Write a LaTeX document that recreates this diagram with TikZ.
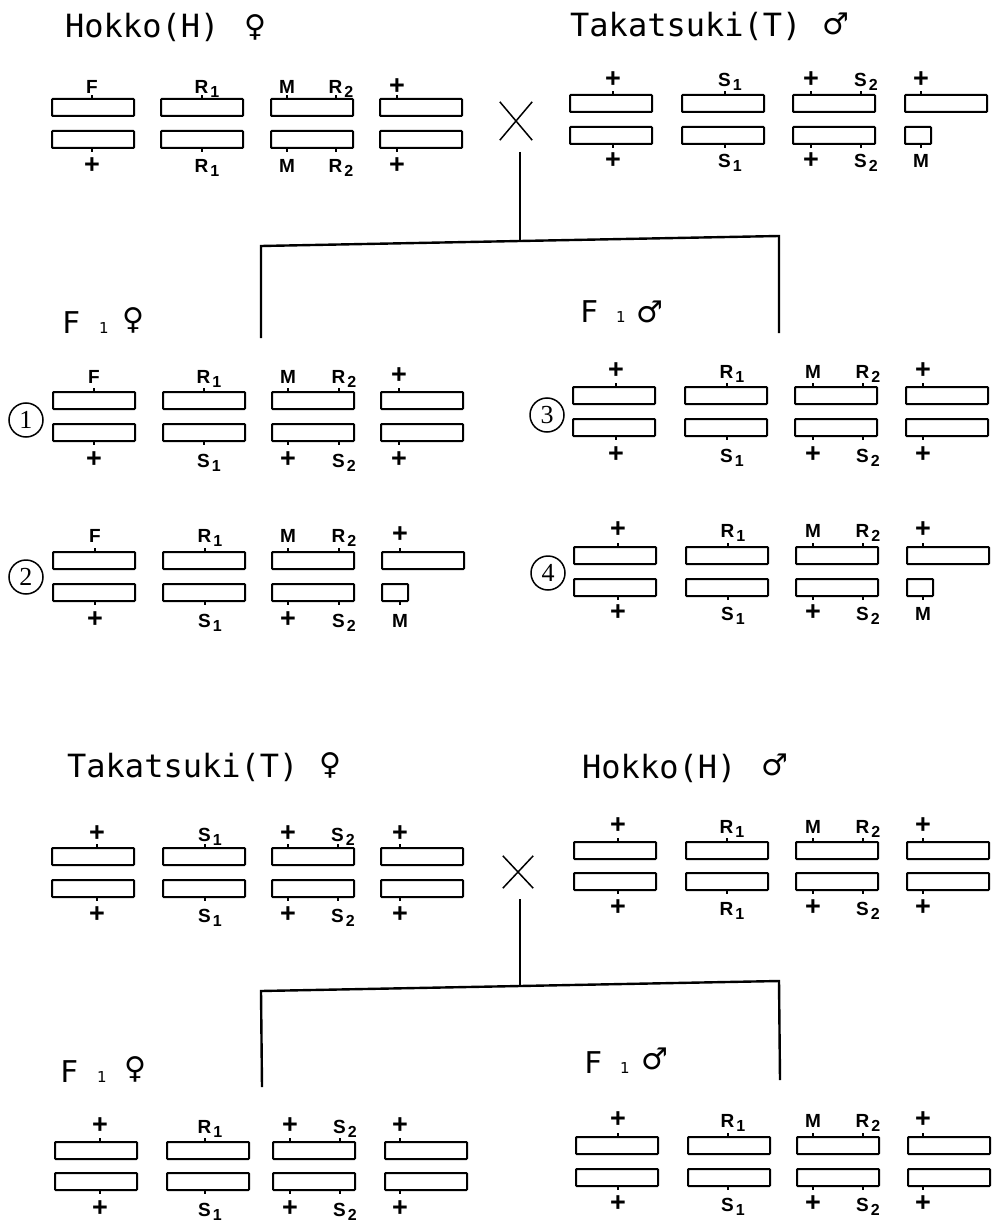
\documentclass[tikz,border=0pt]{standalone}
\usepackage{fontspec}
\setmainfont{Liberation Sans}
\newfontfamily\monof{DejaVu Sans Mono}
\newfontfamily\symf{DejaVu Sans}
\newfontfamily\serf{Liberation Serif}
\newcounter{nn}
\newcommand\subf{\fontsize{16}{16}\selectfont}
% bars: x1,x2,x3,x4,yU,yL
\newcommand\bars[6]{\foreach \xx in {#1,#2,#3,#4}{\draw[chr] (\xx,#5) rectangle ++(82,17); \draw[chr] (\xx,#6) rectangle ++(82,17);}}
\newcommand\barsM[6]{\foreach \xx in {#1,#2,#3,#4}{\draw[chr] (\xx,#5) rectangle ++(82,17);}
  \foreach \xx in {#1,#2,#3}{\draw[chr] (\xx,#6) rectangle ++(82,17);}
  \draw[chr] (#4,#6) rectangle ++(26,17);}
% ticks and labels: x, edge y, label y, ...
\newcommand\upP[3]{\draw[tick] (#1,#2) -- ++(0,-4);\stepcounter{nn}\node[plus] (n\arabic{nn}) at (#1,#3) {+};}
\newcommand\dnP[3]{\draw[tick] (#1,#2) -- ++(0,4);\stepcounter{nn}\node[plus] (n\arabic{nn}) at (#1,#3) {+};}
\newcommand\upL[4]{\draw[tick] (#1,#2) -- ++(0,-4);\stepcounter{nn}\node[let] (n\arabic{nn}) at (#1,#3+7) {#4};}
\newcommand\dnL[4]{\draw[tick] (#1,#2) -- ++(0,4);\stepcounter{nn}\node[let] (n\arabic{nn}) at (#1,#3+7) {#4};}
\newcommand\upS[5]{\draw[tick] (#1,#2) -- ++(0,-4);\stepcounter{nn}\node[let] (n\arabic{nn}) at (#1+5,#3+7) {#4\hspace{2pt}\raisebox{-4pt}{\subf #5}};}
\newcommand\dnS[5]{\draw[tick] (#1,#2) -- ++(0,4);\stepcounter{nn}\node[let] (n\arabic{nn}) at (#1+5,#3+7) {#4\hspace{2pt}\raisebox{-4pt}{\subf #5}};}
\begin{document}
\begin{tikzpicture}[x=1pt,y=-1pt,
  chr/.style={draw=black,line width=2pt,rounded corners=0.8pt},
  tick/.style={draw=black,line width=1.2pt},
  plus/.style={inner sep=0pt,anchor=center,font=\bfseries\fontsize{27}{27}\selectfont},
  let/.style={inner sep=0pt,anchor=base,font=\bfseries\fontsize{19}{19}\selectfont},
  title/.style={inner sep=0pt,anchor=base west,font=\monof\fontsize{32}{32}\selectfont},
  sym/.style={inner sep=0pt,anchor=center,font=\symf\fontsize{30}{30}\selectfont},
  ffont/.style={inner sep=0pt,anchor=base west,font=\monof\fontsize{30}{30}\selectfont},
  onefont/.style={inner sep=0pt,anchor=base,font=\symf\fontsize{15}{15}\selectfont},
  circ/.style={draw=black,circle,line width=1.5pt,minimum size=34pt,inner sep=0pt,font=\serf\fontsize{26}{26}\selectfont},
  crossl/.style={draw=black,line width=1.5pt},
  conn/.style={draw=black,line width=2.4pt}]
\useasboundingbox (0,0) rectangle (994,1222);
\fill[white] (0,0) rectangle (994,1222);

% ---------- titles ----------
\node[title] (tHf) at (65,38) {Hokko(H)};
\node[sym] (sHf) at (255,27) {♀};
\node[title] (tTm) at (570,37) {Takatsuki(T)};
\node[sym] (sTm) at (836,24) {♂};
\node[title] (tTf) at (67,777) {Takatsuki(T)};
\node[sym] (sTf) at (330,765) {♀};
\node[title] (tHm) at (582,778) {Hokko(H)};
\node[sym] (sHm) at (775,765) {♂};

% F1 labels
\node[ffont] (f1a) at (62,333) {F};
\node[onefont] (f1an) at (104,333) {1};
\node[sym] (f1as) at (133,320) {♀};
\node[ffont] (f1b) at (580,323) {F};
\node[onefont] (f1bn) at (621,323) {1};
\node[sym] (f1bs) at (650,312) {♂};
\node[ffont] (f1c) at (60,1082) {F};
\node[onefont] (f1cn) at (102,1082) {1};
\node[sym] (f1cs) at (135,1069) {♀};
\node[ffont] (f1d) at (584,1073) {F};
\node[onefont] (f1dn) at (625,1073) {1};
\node[sym] (f1ds) at (655,1059) {♂};

% circled numbers
\node[circ] (c1) at (26,420) {1};
\node[circ] (c2) at (26,577) {2};
\node[circ] (c3) at (547,415) {3};
\node[circ] (c4) at (548,573) {4};

% crosses
\node[minimum width=32pt,minimum height=38pt,inner sep=0pt] (xA) at (516,121) {};
\draw[crossl] (xA.north west) -- (xA.south east);
\draw[crossl] (xA.south west) -- (xA.north east);
\node[minimum width=30pt,minimum height=32pt,inner sep=0pt] (xB) at (518,872) {};
\draw[crossl] (xB.north west) -- (xB.south east);
\draw[crossl] (xB.south west) -- (xB.north east);

% connectors
\coordinate (vA) at (520,152);
\coordinate (jA) at (520,241);
\coordinate (lA) at (261,246);
\coordinate (rA) at (779,236);
\coordinate (lAe) at (261,338);
\coordinate (rAe) at (779,333);
\draw[conn] (vA) -- (jA);
\draw[conn] (lAe) -- (lA) -- (rA) -- (rAe);
\coordinate (vB) at (520,899);
\coordinate (jB) at (520,986);
\coordinate (lB) at (261,991);
\coordinate (rB) at (779,981);
\coordinate (lBe) at (262,1087);
\coordinate (rBe) at (780,1080);
\draw[conn] (vB) -- (jB);
\draw[conn] (lBe) -- (lB) -- (rB) -- (rBe);

% ---------- Set A : Hokko female ----------
\bars{52}{161}{271}{380}{99}{131}
\upL{92}{99}{87}{F}
\upS{202}{99}{87}{R}{1}
\upL{287}{99}{87}{M}
\upS{336}{99}{87}{R}{2}
\upP{397}{99}{87}
\dnP{92}{148}{166}
\dnS{202}{148}{166}{R}{1}
\dnL{287}{148}{166}{M}
\dnS{336}{148}{166}{R}{2}
\dnP{397}{148}{166}

% ---------- Set B : Takatsuki male ----------
\barsM{570}{682}{793}{905}{95}{127}
\upP{613}{95}{80}
\upS{725}{95}{80}{S}{1}
\upP{811}{95}{80}
\upS{861}{95}{80}{S}{2}
\upP{921}{95}{80}
\dnP{613}{144}{161}
\dnS{725}{144}{161}{S}{1}
\dnP{811}{144}{161}
\dnS{861}{144}{161}{S}{2}
\dnL{921}{144}{161}{M}

% ---------- Row 1 ----------
\bars{53}{163}{272}{381}{392}{424}
\upL{94}{392}{376}{F}
\upS{204}{392}{376}{R}{1}
\upL{288}{392}{376}{M}
\upS{339}{392}{376}{R}{2}
\upP{399}{392}{376}
\dnP{94}{441}{460}
\dnS{204}{441}{460}{S}{1}
\dnP{288}{441}{460}
\dnS{339}{441}{460}{S}{2}
\dnP{399}{441}{460}

% ---------- Row 2 ----------
\barsM{53}{163}{272}{382}{552}{584}
\upL{95}{552}{535}{F}
\upS{205}{552}{535}{R}{1}
\upL{288}{552}{535}{M}
\upS{339}{552}{535}{R}{2}
\upP{400}{552}{535}
\dnP{95}{601}{620}
\dnS{205}{601}{620}{S}{1}
\dnP{288}{601}{620}
\dnS{339}{601}{620}{S}{2}
\dnL{400}{601}{620}{M}

% ---------- Row 3 ----------
\bars{573}{685}{795}{906}{387}{419}
\upP{616}{387}{371}
\upS{727}{387}{371}{R}{1}
\upL{813}{387}{371}{M}
\upS{863}{387}{371}{R}{2}
\upP{923}{387}{371}
\dnP{616}{436}{455}
\dnS{727}{436}{455}{S}{1}
\dnP{813}{436}{455}
\dnS{863}{436}{455}{S}{2}
\dnP{923}{436}{455}

% ---------- Row 4 ----------
\barsM{574}{686}{796}{907}{547}{579}
\upP{618}{547}{530}
\upS{728}{547}{530}{R}{1}
\upL{813}{547}{530}{M}
\upS{863}{547}{530}{R}{2}
\upP{923}{547}{530}
\dnP{618}{596}{613}
\dnS{728}{596}{613}{S}{1}
\dnP{813}{596}{613}
\dnS{863}{596}{613}{S}{2}
\dnL{923}{596}{613}{M}

% ---------- Set C : Takatsuki female ----------
\bars{52}{163}{272}{381}{848}{880}
\upP{97}{848}{834}
\upS{205}{848}{834}{S}{1}
\upP{288}{848}{834}
\upS{338}{848}{834}{S}{2}
\upP{400}{848}{834}
\dnP{97}{897}{915}
\dnS{205}{897}{915}{S}{1}
\dnP{288}{897}{915}
\dnS{338}{897}{915}{S}{2}
\dnP{400}{897}{915}

% ---------- Set D : Hokko male ----------
\bars{574}{686}{796}{907}{842}{873}
\upP{618}{842}{826}
\upS{727}{842}{826}{R}{1}
\upL{813}{842}{826}{M}
\upS{863}{842}{826}{R}{2}
\upP{923}{842}{826}
\dnP{618}{890}{908}
\dnS{727}{890}{908}{R}{1}
\dnP{813}{890}{908}
\dnS{863}{890}{908}{S}{2}
\dnP{923}{890}{908}

% ---------- Set E : F1 female (bottom) ----------
\bars{55}{167}{273}{385}{1142}{1173}
\upP{100}{1142}{1126}
\upS{205}{1142}{1126}{R}{1}
\upP{290}{1142}{1126}
\upS{340}{1142}{1126}{S}{2}
\upP{400}{1142}{1126}
\dnP{100}{1190}{1209}
\dnS{205}{1190}{1209}{S}{1}
\dnP{290}{1190}{1209}
\dnS{340}{1190}{1209}{S}{2}
\dnP{400}{1190}{1209}

% ---------- Set F : F1 male (bottom) ----------
\bars{576}{688}{797}{908}{1137}{1169}
\upP{618}{1137}{1120}
\upS{728}{1137}{1120}{R}{1}
\upL{813}{1137}{1120}{M}
\upS{863}{1137}{1120}{R}{2}
\upP{923}{1137}{1120}
\dnP{618}{1186}{1204}
\dnS{728}{1186}{1204}{S}{1}
\dnP{813}{1186}{1204}
\dnS{863}{1186}{1204}{S}{2}
\dnP{923}{1186}{1204}
\end{tikzpicture}
\end{document}
